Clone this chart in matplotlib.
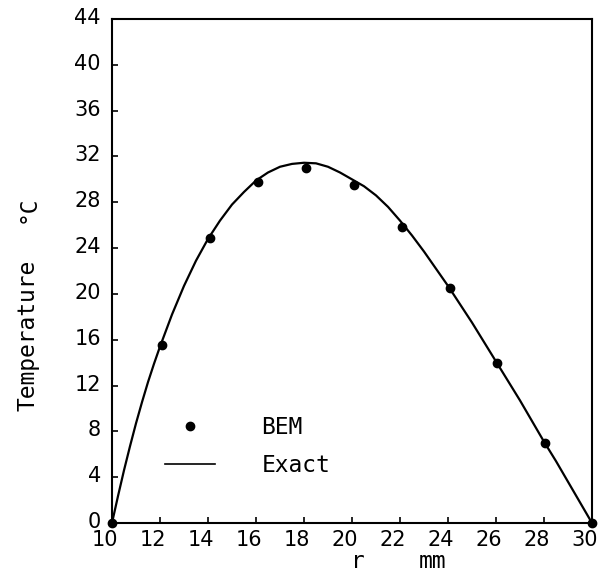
import matplotlib
matplotlib.use("Agg")
import matplotlib.pyplot as plt
from matplotlib.lines import Line2D
from matplotlib.transforms import ScaledTranslation

# BEM results
bem_r = [10, 12.1, 14.1, 16.1, 18.1, 20.1, 22.1, 24.1, 26.05, 28.05, 30]
bem_T = [0, 15.5, 24.9, 29.8, 31.0, 29.5, 25.8, 20.5, 14.0, 7.0, 0]

# Exact solution
exact_r = [10.0, 10.25, 10.5, 10.75, 11.0, 11.25, 11.5, 11.75, 12.0, 12.5, 13.0,
           13.5, 14.0, 14.5, 15.0, 15.5, 16.0, 16.5, 17.0, 17.5, 18.0, 18.5,
           19.0, 19.5, 20.0, 20.5, 21.0, 21.5, 22.0, 22.5, 23.0, 23.5, 24.0,
           24.5, 25.0, 25.5, 26.0, 26.5, 27.0, 27.5, 28.0, 28.5, 29.0, 29.5, 30.0]
exact_T = [0.0, 2.35, 4.6, 6.7, 8.7, 10.55, 12.3, 13.9, 15.4, 18.2, 20.7,
           22.9, 24.8, 26.4, 27.8, 28.9, 29.9, 30.6, 31.1, 31.35, 31.45, 31.4,
           31.1, 30.6, 30.0, 29.4, 28.6, 27.6, 26.4, 25.1, 23.7, 22.2, 20.7,
           19.1, 17.5, 15.8, 14.1, 12.4, 10.7, 8.9, 7.1, 5.4, 3.6, 1.8, 0.0]

x_ticks = list(range(10, 31, 2))
y_ticks = list(range(0, 45, 4))

fig = plt.figure(figsize=(6.07, 5.75), dpi=100)
ax = fig.add_axes([112/607, 1-523/575, (592-112)/607, (523-19)/575])

ax.plot(exact_r, exact_T, color="black", lw=1.6, clip_on=False)
ax.plot(bem_r, bem_T, "o", color="black", ms=6, clip_on=False)

ax.set_xlim(10, 30)
ax.set_ylim(0, 44)
ax.set_xticks(x_ticks)
ax.set_yticks(y_ticks)
ax.set_xticklabels([str(v) for v in x_ticks])
ax.set_yticklabels([str(v) for v in y_ticks])
for s in ax.spines.values():
    s.set_linewidth(1.5)
ax.tick_params(direction="in", length=4, width=1.2, labelsize=15,
               top=False, right=False)
ax.tick_params(axis="x", pad=5)
ax.tick_params(axis="y", pad=8)
offx = ScaledTranslation(-7/100, 0, fig.dpi_scale_trans)
for lab in ax.get_xticklabels():
    lab.set_transform(lab.get_transform() + offx)
offy = ScaledTranslation(0, 3/100, fig.dpi_scale_trans)
for lab in ax.get_yticklabels():
    lab.set_transform(lab.get_transform() + offy)

mono = "DejaVu Sans Mono"
fs = 16.5
fig.text(358/607, 1-562/575, "r", ha="center", va="center", fontsize=fs, family=mono)
fig.text(432/607, 1-562/575, "mm", ha="center", va="center", fontsize=fs, family=mono)
fig.text(28/607, 1-335/575, "Temperature", ha="center", va="center",
         rotation=90, fontsize=fs, family=mono)
fig.text(28/607, 1-209/575, "°C", ha="center", va="center",
         rotation=90, fontsize=fs, family=mono)

handles = [Line2D([], [], ls="none", marker="o", color="black", ms=6),
           Line2D([], [], color="black", lw=1.2)]
leg = ax.legend(handles, ["BEM", "Exact"], loc="upper left",
                frameon=False, handlelength=2.2, handletextpad=2.0,
                labelspacing=0.65, prop={"family": mono, "size": fs},
                borderaxespad=0, borderpad=0)
leg.set_bbox_to_anchor((165/607, 1-416/575), transform=fig.transFigure)

fig.savefig("out.png", dpi=100)
